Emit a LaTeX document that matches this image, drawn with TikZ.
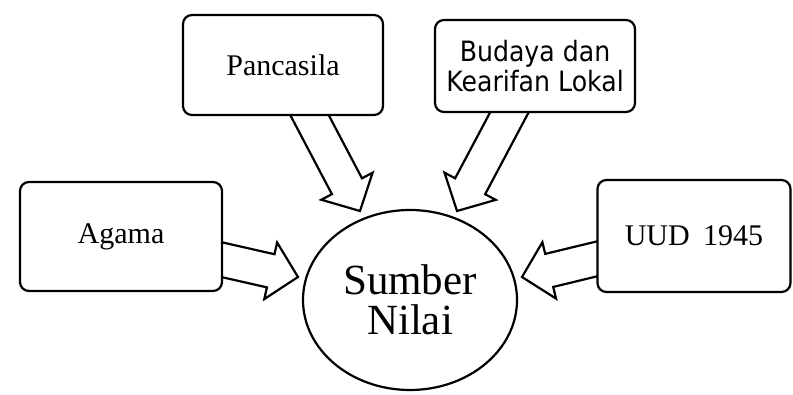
\documentclass[tikz,border=0pt]{standalone}
\usepackage{fontspec}
\setmainfont{Liberation Serif}
\newfontfamily\budfont[FakeStretch=0.9]{DejaVu Sans}
\usetikzlibrary{calc,shapes.geometric,backgrounds}
\tikzset{
  box/.style={draw, line width=2.2pt, rounded corners=9pt, fill=white, inner sep=0pt, align=center,
              font=\fontsize{30}{34}\selectfont},
  barrow/.style={draw, line width=2.2pt, fill=white, line join=miter},
}
\newcommand{\blockarr}[3]{% #1 prefix, #2 tail (inside box), #3 tip
  \coordinate (#1h) at ($(#3)!28pt!(#2)$);
  \draw[barrow] ($(#2)!17pt!90:(#3)$) -- ($(#1h)!17pt!90:(#3)$) -- ($(#1h)!29pt!90:(#3)$)
    -- (#3) -- ($(#1h)!29pt!-90:(#3)$) -- ($(#1h)!17pt!-90:(#3)$) -- ($(#2)!17pt!-90:(#3)$) -- cycle;
}
\begin{document}
\begin{tikzpicture}[x=1pt, y=-1pt]
\useasboundingbox (0,0) rectangle (793,395);
\node[box, minimum width=200pt, minimum height=100pt] (pan) at (283,65) {Pancasila};
\node[box, minimum width=200pt, minimum height=92pt, font=\budfont\fontsize{28}{30}\selectfont] (bud) at (535,66) {Budaya dan\\Kearifan Lokal};
\node[box, minimum width=202pt, minimum height=109pt] (aga) at (121,236.5) {Agama};
\node[box, minimum width=193pt, minimum height=112pt] (uud) at (694,236) {UUD\hspace{0.45em}1945};
\node[draw, ellipse, line width=2.2pt, inner sep=0pt, minimum width=214pt, minimum height=180pt,
      align=center, font=\fontsize{43}{40}\selectfont] (sn) at (410,300) {Sumber\\Nilai};
% border points and tips
\coordinate (panb) at ($(pan.south)+(27,0)$);
\coordinate (budb) at ($(bud.south)+(-26,0)$);
\coordinate (agab) at ($(aga.east)+(0,23.5)$);
\coordinate (uudb) at ($(uud.west)+(0,23)$);
\coordinate (pant) at ($(sn.center)+(-50,-89)$);
\coordinate (budt) at ($(sn.center)+(47,-89)$);
\coordinate (agat) at ($(sn.center)+(-112,-23)$);
\coordinate (uudt) at ($(sn.center)+(112,-23)$);
\coordinate (pana) at ($(pant)!1.12!(panb)$);
\coordinate (buda) at ($(budt)!1.12!(budb)$);
\coordinate (agaa) at ($(agat)!1.15!(agab)$);
\coordinate (uuda) at ($(uudt)!1.15!(uudb)$);
\begin{scope}[on background layer]
\blockarr{p}{pana}{pant}
\blockarr{b}{buda}{budt}
\blockarr{a}{agaa}{agat}
\blockarr{u}{uuda}{uudt}
\end{scope}
\end{tikzpicture}
\end{document}
